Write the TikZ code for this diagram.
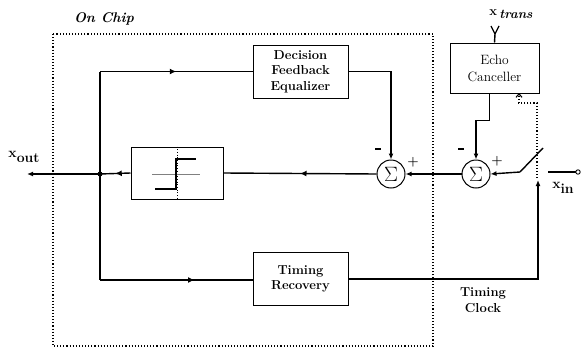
\documentclass[tikz,border=0pt]{standalone}
\usetikzlibrary{arrows.meta,decorations.markings}
\begin{document}
\begin{tikzpicture}[x=1pt,y=-1pt,
  sig/.style={line width=1.4pt},
  box/.style={draw,line width=1pt,align=center,font=\fontsize{13}{15.5}\selectfont\bfseries,inner sep=0pt},
  sum/.style={draw,circle,line width=1pt,minimum size=28pt,inner sep=0pt,font=\fontsize{20}{20}\selectfont},
  tip/.style={-{Latex[length=6pt,width=5pt]}},
  midarr/.style={postaction={decorate},decoration={markings,mark=at position #1 with {\arrow{Latex[length=6.5pt,width=6pt]}}}},
  midarr/.default=0.5,
  lbl/.style={font=\fontsize{13}{15.5}\selectfont\bfseries,align=center,inner sep=0pt}]
\useasboundingbox (0,0) rectangle (581,351);
% on chip region
\draw[dotted,line width=1.1pt] (53,34) rectangle (433,346);
\node[lbl,font=\fontsize{14}{14}\selectfont\bfseries\itshape] (onchip) at (104,19) {On Chip};
% blocks
\node[box,minimum width=95pt,minimum height=53pt] (dfe) at (300.5,71.5) {Decision\\Feedback\\Equalizer};
\node[box,minimum width=95pt,minimum height=53pt] (tr) at (300.5,279) {Timing\\Recovery};
\node[box,minimum width=89pt,minimum height=50pt,font=\fontsize{13.5}{17}\selectfont] (ec) at (494.5,68) {Echo\\Canceller};
\node[draw,line width=1pt,minimum width=92pt,minimum height=52pt] (sl) at (177,173) {};
\node[sum] (s1) at (391,174) {$\Sigma$};
\node[sum] (s2) at (476,174) {$\Sigma$};
% slicer symbol
\draw[dotted,line width=0.7pt] (sl.north) -- (sl.south);
\draw[gray,line width=0.7pt] (152,174) -- (200,174);
\draw[line width=1.4pt] (155,189) -- (176,189) -- (176,159) -- (196,159);
% coordinates
\coordinate (j) at (100,174);
\coordinate (jt) at (100,71.5);
\coordinate (jb) at (100,280);
\coordinate (xo) at (27,174);
\coordinate (sw1) at (520,172);
\coordinate (sw2) at (543,148);
\coordinate (sw3) at (548,172);
\coordinate (xin) at (578,172);
\coordinate (clk) at (538,180);
\coordinate (fb) at (537,178);
\coordinate (xt) at (495,34);
% main path
\draw[sig,tip] (j) -- (xo);
\fill (j) circle (2.5pt);
\draw[sig,midarr] (sl.west) -- (j);
\draw[sig,midarr] (s1.west) -- (sl.east);
\draw[sig] (j) -- (jt);
\draw[sig,midarr] (jt) -- (dfe.west);
\draw[sig] (j) -- (jb);
\draw[sig,midarr=0.62] (jb) -- (jb -| tr.west);
\draw[sig,tip] (dfe.east) -| (s1.north);
\draw[sig,tip] (s2.west) -- (s1.east);
\draw[sig,tip] ([xshift=-5pt]ec.south) -- ++(0,27) -| (s2.north);
% switch and input
\draw[sig,tip] (sw1) -- (s2.east);
\draw[sig] (sw1) -- (sw2);
\draw[sig] (xin) -- (sw3);
\draw[line width=0.9pt,fill=white] (xin) circle (2.2pt);
% timing clock
\draw[sig,tip] (tr.east) -| (clk);
% dotted adaptation feedback
\draw[dotted,line width=1.1pt,-{Straight Barb[length=3.5pt,width=6pt]}] (fb) -- (537,103) -- (519,103) -- (519,93);
% x_trans input
\draw[sig] (xt) -- (ec.north);
\draw[line width=1.2pt] (xt) -- (491,26) (xt) -- (499,26);
% labels
\node[lbl,font=\fontsize{14}{14}\selectfont\bfseries] (lxout) at (24,157) {x\raisebox{-5pt}{out}};
\node[lbl,font=\fontsize{13}{14}\selectfont\bfseries] (lxt) at (511,14) {x\,\raisebox{-3pt}{\itshape trans}};
\node[lbl,font=\fontsize{14}{14}\selectfont\bfseries] (lxin) at (563,188) {x\raisebox{-5pt}{in}};
\node[lbl] (lclk) at (483,300) {Timing\\Clock};
\node[lbl] (m1) at (378,149) {\rule{6pt}{1.3pt}};
\node[lbl] (p1) at (413,162) {+};
\node[lbl] (m2) at (461,149) {\rule{6pt}{1.3pt}};
\node[lbl] (p2) at (497,161) {+};
\end{tikzpicture}
\end{document}
